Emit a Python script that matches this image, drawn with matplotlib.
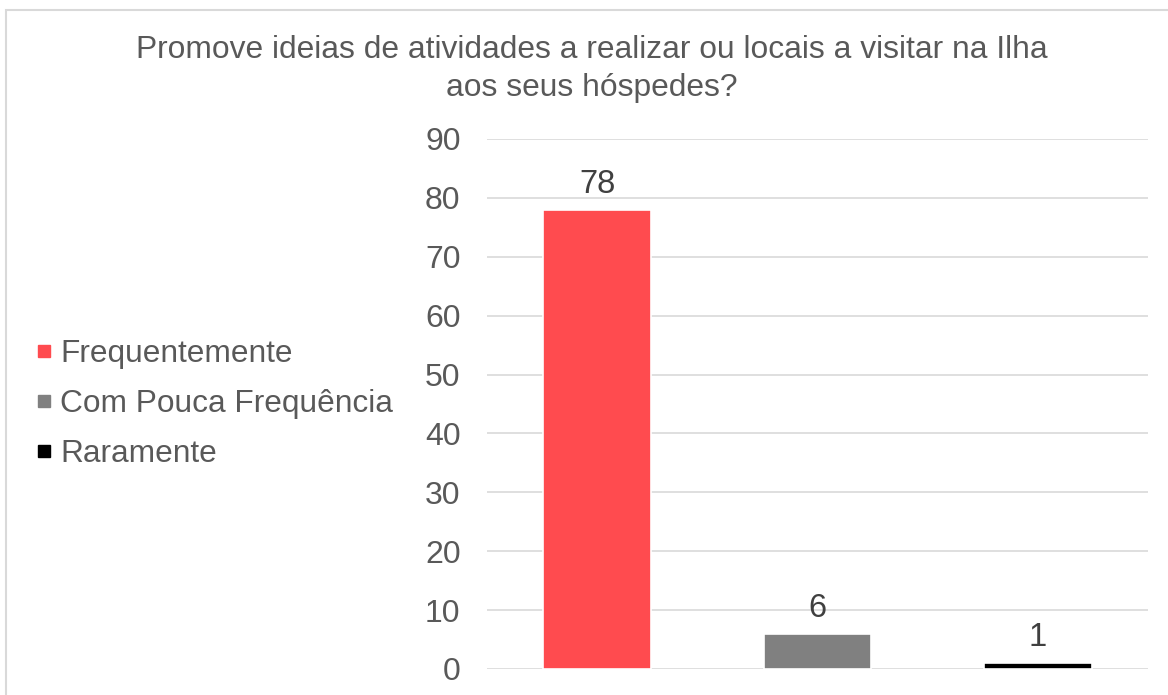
import matplotlib
matplotlib.use("Agg")
import matplotlib.pyplot as plt
from matplotlib.lines import Line2D
from matplotlib.patches import Rectangle

categories = ["Frequentemente", "Com Pouca Frequência", "Raramente"]
values = [78, 6, 1]
colors = ["#FF4B4F", "#808080", "#000000"]
yticks = [0, 10, 20, 30, 40, 50, 60, 70, 80, 90]
title = "Promove ideias de atividades a realizar ou locais a visitar na Ilha\naos seus hóspedes?"

plt.rcParams['font.family'] = ['Liberation Sans', 'DejaVu Sans']

W, H = 1168, 695
fig = plt.figure(figsize=(W / 100, H / 100), dpi=100)

# outer border
fig.patches.append(Rectangle((6 / W, -0.2), 1.2, 1.2 - 10 / H, transform=fig.transFigure,
                             fill=False, edgecolor="#D9D9D9", linewidth=1.5))

ax = fig.add_axes([487 / W, 1 - 669 / H, (1148 - 487) / W, (669 - 139) / H])
x = list(range(len(categories)))
bars = ax.bar(x, values, width=0.49, color=colors, edgecolor="white", linewidth=1.2, zorder=3)
ax.set_xlim(-0.5, len(categories) - 0.5)
ax.set_ylim(0, 90)
ax.set_yticks(yticks)
ax.tick_params(axis='y', length=0, labelsize=23, labelcolor="#595959", pad=19)
ax.set_xticks([])
for s in ax.spines.values():
    s.set_visible(False)
ax.grid(axis='y', color="#D9D9D9", linewidth=1.2, zorder=0)
ax.set_axisbelow(True)

for xi, v in zip(x, values):
    ax.annotate(f"{v}", (xi, v), xytext=(0, 7), textcoords="offset points",
                ha="center", va="bottom", fontsize=23.5, color="#404040")

fig.text(592 / W, 1 - 69 / H, title, ha="center", va="center", fontsize=22.9,
         color="#595959", linespacing=1.35)

handles = [Line2D([], [], marker='s', linestyle='none', markersize=8.5,
                  markerfacecolor=c, markeredgecolor=c) for c in colors]
fig.legend(handles, categories, loc="center left", bbox_to_anchor=(37 / W, 1 - 404 / H),
           frameon=False, fontsize=22.8, labelcolor="#595959", handlelength=0.45,
           handletextpad=0.28, labelspacing=0.64, borderaxespad=0, borderpad=0)

fig.savefig("out.png", dpi=100)
